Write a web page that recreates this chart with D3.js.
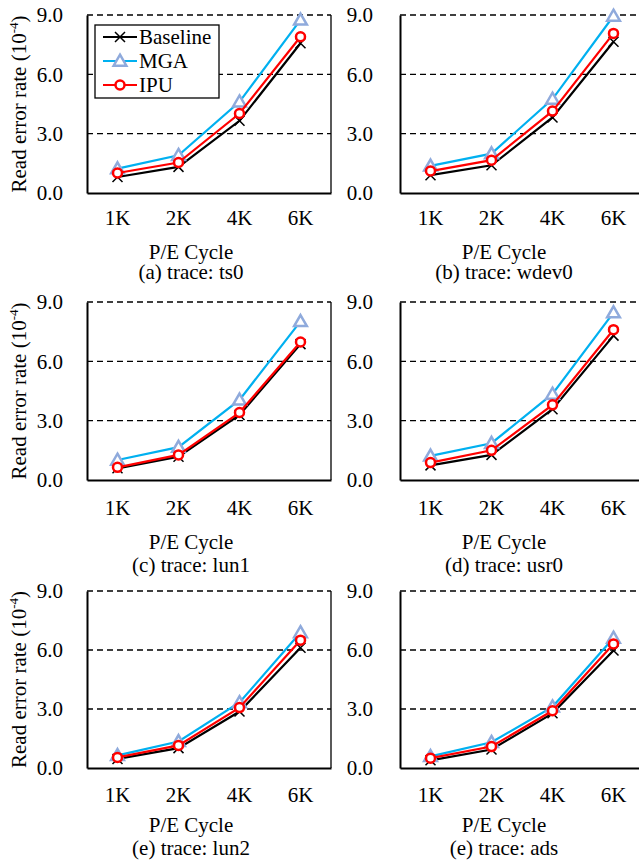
<!DOCTYPE html>
<html>
<head>
<meta charset="utf-8">
<script src="https://cdn.jsdelivr.net/npm/d3@7"></script>
<style>
  body { margin: 0; background: #fff; }
  svg { display: block; }
  svg text { font-family: "Liberation Serif", "Times New Roman", Times, serif !important; }
</style>
</head>
<body>
<svg width="639" height="865"></svg>
<script>
// P/E cycle categories
var cycles = ["1K", "2K", "4K", "6K"];
var yTicks = [0, 3, 6, 9];

var traces = ["ts0", "wdev0", "lun1", "usr0", "lun2", "ads"];
var captions = ["(a) trace: ts0", "(b) trace: wdev0", "(c) trace: lun1",
                "(d) trace: usr0", "(e) trace: lun2", "(e) trace: ads"];

// read error rate (1e-4) per trace
var baseline = [
  [0.81, 1.32, 3.65, 7.57],
  [0.90, 1.40, 3.82, 7.65],
  [0.59, 1.18, 3.29, 6.87],
  [0.74, 1.27, 3.58, 7.30],
  [0.46, 1.01, 2.87, 6.11],
  [0.39, 0.94, 2.78, 5.97]
];
var mga = [
  [1.23, 1.91, 4.61, 8.75],
  [1.37, 1.99, 4.75, 8.95],
  [1.01, 1.66, 4.05, 8.02],
  [1.22, 1.86, 4.35, 8.46],
  [0.64, 1.35, 3.33, 6.89],
  [0.59, 1.31, 3.11, 6.61]
];
var ipu = [
  [1.01, 1.54, 4.02, 7.90],
  [1.11, 1.66, 4.14, 8.07],
  [0.64, 1.27, 3.41, 6.98],
  [0.88, 1.50, 3.80, 7.60],
  [0.54, 1.15, 3.07, 6.50],
  [0.50, 1.09, 2.91, 6.31]
];

var seriesNames = ["Baseline", "MGA", "IPU"];
var seriesData = [baseline, mga, ipu];
var lineColor = { "Baseline": "#000000", "MGA": "#00b0f0", "IPU": "#ff0000" };

var svg = d3.select("svg");
var fs = 21;
var serif = "Liberation Serif";

// panel layout: left edge of plot, top and bottom
var colLeft = [87, 400];
var rowTop = [15, 302, 591];
var rowBottom = [193, 480, 768];
var plotW = 244;
// offsets below the plot bottom for labels, per row
var labelOff = [[25, 59, 79], [28, 62, 85], [27, 57, 80]];

function marker(g, name, x, y) {
  if (name === "Baseline") {
    var s = 5;
    g.append("path")
      .attr("d", "M" + (x - s) + "," + (y - s) + "L" + (x + s) + "," + (y + s) +
                 "M" + (x - s) + "," + (y + s) + "L" + (x + s) + "," + (y - s))
      .attr("stroke", "#000").attr("stroke-width", 1.5).attr("fill", "none");
  } else if (name === "MGA") {
    g.append("path")
      .attr("d", d3.symbol(d3.symbolTriangle, 70)())
      .attr("transform", "translate(" + x + "," + (y + 1) + ")")
      .attr("fill", "#fff").attr("stroke", "#8faadc").attr("stroke-width", 2.5);
  } else {
    g.append("circle")
      .attr("cx", x).attr("cy", y).attr("r", 4.5)
      .attr("fill", "#fff").attr("stroke", "#ff0000").attr("stroke-width", 2.5);
  }
}

traces.forEach(function(t, i) {
  var col = i % 2, row = Math.floor(i / 2);
  var left = colLeft[col], top = rowTop[row], bottom = rowBottom[row];

  var x = d3.scaleBand().domain(cycles).range([left, left + plotW]).padding(0);
  var y = d3.scaleLinear().domain([0, 9]).range([bottom, top]);

  var g = svg.append("g").attr("class", "panel").attr("font-family", serif);

  // dashed gridlines
  g.selectAll("line.grid")
    .data(yTicks.filter(function(v) { return v > 0; }))
    .enter().append("line")
    .attr("x1", left).attr("x2", left + plotW)
    .attr("y1", function(d) { return y(d); })
    .attr("y2", function(d) { return y(d); })
    .attr("stroke", "#000").attr("stroke-width", 1.3)
    .attr("stroke-dasharray", "6,4");

  // right border
  g.append("line")
    .attr("x1", left + plotW).attr("x2", left + plotW)
    .attr("y1", top).attr("y2", bottom)
    .attr("stroke", "#000").attr("stroke-width", 1.3);

  // y axis
  var yAxis = g.append("g")
    .attr("transform", "translate(" + left + ",0)")
    .call(d3.axisLeft(y).tickValues(yTicks).tickFormat(d3.format(".1f")).tickSize(0).tickPadding(col === 0 ? 24 : 27));
  yAxis.attr("font-family", serif);
  yAxis.select(".domain").attr("stroke-width", 2);
  yAxis.selectAll("text").attr("font-size", fs).attr("fill", "#000");

  // x axis
  var xAxis = g.append("g")
    .attr("transform", "translate(0," + bottom + ")")
    .call(d3.axisBottom(x).tickSize(0).tickPadding(0));
  xAxis.attr("font-family", serif);
  xAxis.select(".domain").attr("stroke-width", 2);
  xAxis.selectAll("text")
    .attr("font-size", fs).attr("fill", "#000")
    .attr("dy", null).attr("y", labelOff[row][0] + 7);

  var cx = left + plotW / 2 - 18;
  g.append("text").attr("x", cx).attr("y", bottom + labelOff[row][1] + 7)
    .attr("text-anchor", "middle").attr("font-size", fs).text("P/E Cycle");
  g.append("text").attr("x", cx).attr("y", bottom + labelOff[row][2] + 7)
    .attr("text-anchor", "middle").attr("font-size", fs).text(captions[i]);

  if (col === 0) {
    var yt = g.append("text")
      .attr("transform", "translate(26," + (top + bottom) / 2 + ") rotate(-90)")
      .attr("text-anchor", "middle").attr("font-size", fs);
    yt.append("tspan").text("Read error rate (10");
    yt.append("tspan").attr("font-size", 13).attr("dy", -8).text("-4");
    yt.append("tspan").attr("dy", 8).text(")");
  }

  // lines and markers
  var line = d3.line()
    .x(function(d, k) { return x(cycles[k]) + x.bandwidth() / 2; })
    .y(function(d) { return y(d); });

  seriesNames.forEach(function(name, s) {
    var vals = seriesData[s][i];
    g.append("path").datum(vals)
      .attr("d", line).attr("fill", "none")
      .attr("stroke", lineColor[name]).attr("stroke-width", 2.2);
    vals.forEach(function(v, k) {
      marker(g, name, x(cycles[k]) + x.bandwidth() / 2, y(v));
    });
  });

  // legend in first panel
  if (i === 0) {
    var lg = g.append("g");
    lg.append("rect").attr("x", 95).attr("y", 25).attr("width", 124).attr("height", 73)
      .attr("fill", "#fff").attr("stroke", "#000").attr("stroke-width", 1.3);
    var rowsY = [37, 61, 85];
    seriesNames.forEach(function(name, s) {
      lg.append("line").attr("x1", 103).attr("x2", 137)
        .attr("y1", rowsY[s]).attr("y2", rowsY[s])
        .attr("stroke", lineColor[name]).attr("stroke-width", 2.2);
      marker(lg, name, 120, rowsY[s]);
      lg.append("text").attr("x", 139).attr("y", rowsY[s] + 7)
        .attr("font-size", fs).text(name);
    });
  }
});
</script>
</body>
</html>
